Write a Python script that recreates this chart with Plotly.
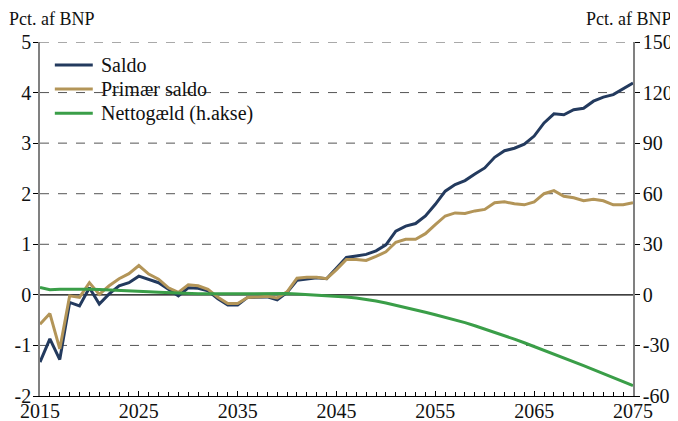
import plotly.graph_objects as go

years = list(range(2015, 2076))

saldo = [-1.33, -0.87, -1.28, -0.15, -0.22, 0.14, -0.18, 0.02, 0.18, 0.24,
         0.37, 0.31, 0.24, 0.11, -0.02, 0.14, 0.13, 0.08, -0.08, -0.20,
         -0.20, -0.05, -0.05, -0.04, -0.10, 0.05, 0.29, 0.32, 0.34, 0.32,
         0.54, 0.74, 0.77, 0.80, 0.87, 0.99, 1.26, 1.36, 1.41, 1.56,
         1.79, 2.05, 2.18, 2.26, 2.39, 2.51, 2.72, 2.85, 2.90, 2.98,
         3.14, 3.40, 3.58, 3.56, 3.66, 3.69, 3.83, 3.91, 3.96, 4.07,
         4.19]

primaer_saldo = [-0.58, -0.37, -1.07, -0.02, -0.05, 0.24, 0.01, 0.18, 0.32, 0.42,
                 0.58, 0.41, 0.31, 0.14, 0.05, 0.20, 0.18, 0.11, -0.05, -0.17,
                 -0.17, -0.05, -0.04, -0.03, -0.06, 0.06, 0.33, 0.35, 0.35, 0.32,
                 0.50, 0.70, 0.70, 0.68, 0.76, 0.85, 1.04, 1.10, 1.10, 1.21,
                 1.39, 1.56, 1.62, 1.61, 1.66, 1.69, 1.82, 1.84, 1.80, 1.78,
                 1.84, 2.00, 2.06, 1.95, 1.92, 1.86, 1.89, 1.86, 1.78, 1.78,
                 1.82]

nettogaeld = [4.4, 3.0, 3.3, 3.4, 3.4, 3.3, 3.2, 3.0, 2.7, 2.4,
              2.1, 1.8, 1.5, 1.2, 1.0, 0.8, 0.7, 0.6, 0.6, 0.7,
              0.8, 0.9, 1.0, 1.0, 1.0, 0.8, 0.5, 0.2, -0.1, -0.4,
              -0.8, -1.3, -1.9, -2.6, -3.6, -4.8, -6.1, -7.5, -8.9, -10.3,
              -11.8, -13.3, -14.9, -16.5, -18.3, -20.2, -22.2, -24.2, -26.3, -28.4,
              -30.6, -32.9, -35.2, -37.5, -39.7, -42.0, -44.3, -46.7, -49.0, -51.4,
              -53.8]

series_names = ["Saldo", "Primær saldo", "Nettogæld (h.akse)"]
series_colors = ["#233a5e", "#b39558", "#3a9e48"]

x_ticks = [2015, 2025, 2035, 2045, 2055, 2065, 2075]
left_ticks = [-2, -1, 0, 1, 2, 3, 4, 5]
left_labels = ["-2", "-1", "0", "1", "2", "3", "4", "5"]
right_ticks = [-60, -30, 0, 30, 60, 90, 120, 150]
right_labels = ["-60", "-30", "0", "30", "60", "90", "120", "150"]

FONT = "Liberation Serif, Times New Roman, serif"
fig = go.Figure()
fig.add_trace(go.Scatter(x=years, y=saldo, name=series_names[0], mode="lines",
                         line=dict(color=series_colors[0], width=3)))
fig.add_trace(go.Scatter(x=years, y=primaer_saldo, name=series_names[1], mode="lines",
                         line=dict(color=series_colors[1], width=3)))
fig.add_trace(go.Scatter(x=years, y=nettogaeld, name=series_names[2], mode="lines",
                         line=dict(color=series_colors[2], width=3), yaxis="y2"))

# dashed grid lines (left axis units)
for v in [-1, 1, 2, 3, 4, 5]:
    fig.add_shape(type="line", xref="paper", x0=0, x1=1, yref="y", y0=v, y1=v,
                  line=dict(color="#555555", width=1, dash="dash"), layer="below")
fig.add_shape(type="line", xref="paper", x0=0, x1=1, yref="y", y0=0, y1=0,
              line=dict(color="#000000", width=1.2), layer="below")

# legend (drawn inside plot, top-left)
leg_y = [0.935, 0.867, 0.799]
annotations = []
for name, col, yy in zip(series_names, series_colors, leg_y):
    fig.add_shape(type="line", xref="paper", yref="paper", x0=0.025, x1=0.089, y0=yy, y1=yy,
                  line=dict(color=col, width=3))
    annotations.append(dict(text=name, xref="paper", yref="paper", x=0.1, y=yy,
                            xanchor="left", yanchor="middle", showarrow=False,
                            font=dict(family=FONT, size=20, color="#111111")))

annotations += [
    dict(text="Pct. af BNP", xref="paper", yref="paper", x=0, y=1, xshift=-33, yshift=23,
         xanchor="left", yanchor="middle", showarrow=False, font=dict(family=FONT, size=18)),
    dict(text="Pct. af BNP", xref="paper", yref="paper", x=1, y=1, xshift=41, yshift=23,
         xanchor="right", yanchor="middle", showarrow=False, font=dict(family=FONT, size=18)),
]

fig.update_layout(
    width=670, height=413,
    margin=dict(l=32, r=45, t=34, b=25),
    paper_bgcolor="white", plot_bgcolor="white",
    font=dict(family=FONT, size=20, color="#111111"),
    showlegend=False,
    xaxis=dict(range=[2015, 2075], tickvals=x_ticks, ticktext=[str(t) for t in x_ticks],
               showgrid=False, zeroline=False, showline=True, linecolor="#000000",
               linewidth=1, ticks="inside", ticklen=5, tickcolor="#000000",
               minor=dict(dtick=1, ticks="inside", ticklen=4, tickcolor="#000000", showgrid=False),
               tickfont=dict(family=FONT, size=20), ticklabelstandoff=-3, automargin=False),
    yaxis=dict(range=[-2, 5], tickvals=left_ticks, ticktext=left_labels,
               showgrid=False, zeroline=False,
               showline=True, linecolor="#808080", linewidth=1.5,
               ticks="outside", ticklen=5, tickcolor="#000000", ticklabelstandoff=-2,
               tickfont=dict(family=FONT, size=20), automargin=False),
    yaxis2=dict(range=[-60, 150], tickvals=right_ticks, ticktext=right_labels,
                overlaying="y", side="right",
                showgrid=False, zeroline=False, showline=True, linecolor="#808080",
                linewidth=1.5, ticks="outside", ticklen=5, tickcolor="#000000",
                ticklabelstandoff=-1,
                tickfont=dict(family=FONT, size=20), automargin=False),
    annotations=annotations,
)

fig.write_html("out.html")
